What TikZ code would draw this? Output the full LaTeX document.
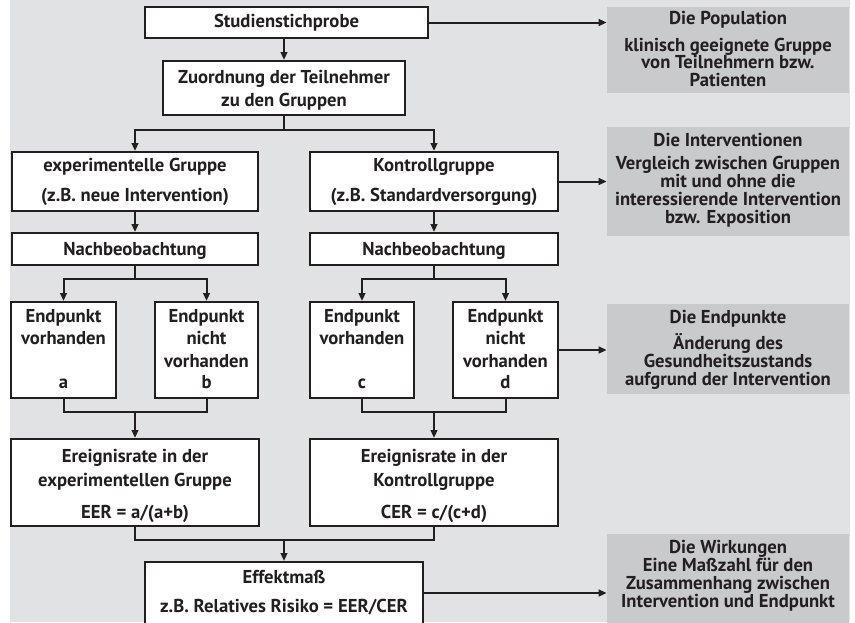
\documentclass[tikz,border=0pt]{standalone}
\usepackage{fontspec}
\setmainfont{PT Sans}
\usetikzlibrary{arrows.meta,fit}
\definecolor{bgc}{HTML}{E1E2E4}
\definecolor{gbc}{HTML}{C9CACC}
\definecolor{ink}{HTML}{231F20}
\begin{document}
\begin{tikzpicture}[x=0.75pt,y=-0.75pt,
  wbox/.style={draw=ink, fill=white, line width=1.5pt, inner sep=0pt, fit={#1}},
  gbox/.style={fill=gbc, inner sep=0pt, fit={#1}},
  t/.style={anchor=base, inner sep=0pt, text=ink, font=\fontsize{14}{16}\selectfont\bfseries},
  con/.style={draw=ink, line width=1.5pt},
  arr/.style={con, -{Triangle[length=6pt,width=5pt]}}]
\useasboundingbox (0,0) rectangle (855,622);
\fill[bgc] (10,0) rectangle (850,622);
% white boxes
\node[wbox={(145,7)(428,38)}] (stud) {};
\node[wbox={(163,61)(405,115)}] (zuord) {};
\node[wbox={(12,152)(258,211)}] (exp) {};
\node[wbox={(310,152)(558,211)}] (kon) {};
\node[wbox={(12,233)(258,265)}] (nachA) {};
\node[wbox={(310,233)(558,265)}] (nachB) {};
\node[wbox={(11,302)(116,398)}] (ea) {};
\node[wbox={(155,302)(258,398)}] (eb) {};
\node[wbox={(310,302)(414,398)}] (ec) {};
\node[wbox={(453,302)(558,398)}] (ed) {};
\node[wbox={(11,439)(259,526)}] (erA) {};
\node[wbox={(310,439)(558,526)}] (erB) {};
\node[wbox={(145,562)(423,625)}] (eff) {};
% grey boxes
\node[gbox={(607,7)(849,93)}] (pop) {};
\node[gbox={(607,127)(849,236)}] (intv) {};
\node[gbox={(607,304)(849,394)}] (endp) {};
\node[gbox={(607,534)(849,626)}] (wirk) {};
% texts in white boxes
\node[t] (studT) at (286.5,27) {Studienstichprobe};
\node[t] (zuordT1) at (284,83) {Zuordnung der Teilnehmer};
\node[t] (zuordT2) at (284,106) {zu den Gruppen};
\node[t] (expT1) at (135,171) {experimentelle Gruppe};
\node[t] (expT2) at (135,201) {(z.B. neue Intervention)};
\node[t] (konT1) at (434,171) {Kontrollgruppe};
\node[t] (konT2) at (434,201) {(z.B. Standardversorgung)};
\node[t] (nachAT) at (135,255) {Nachbeobachtung};
\node[t] (nachBT) at (434,255) {Nachbeobachtung};
\node[t] (eaT1) at (63.5,322) {Endpunkt};
\node[t] (eaT2) at (63.5,344) {vorhanden};
\node[t] (eaT3) at (63.5,388) {a};
\node[t] (ebT1) at (206.5,322) {Endpunkt};
\node[t] (ebT2) at (206.5,344) {nicht};
\node[t] (ebT3) at (206.5,367) {vorhanden};
\node[t] (ebT4) at (206.5,388) {b};
\node[t] (ecT1) at (362,322) {Endpunkt};
\node[t] (ecT2) at (362,344) {vorhanden};
\node[t] (ecT3) at (362,388) {c};
\node[t] (edT1) at (505.5,322) {Endpunkt};
\node[t] (edT2) at (505.5,344) {nicht};
\node[t] (edT3) at (505.5,367) {vorhanden};
\node[t] (edT4) at (505.5,388) {d};
\node[t] (erAT1) at (135,462) {Ereignisrate in der};
\node[t] (erAT2) at (135,486) {experimentellen Gruppe};
\node[t] (erAT3) at (135,518) {EER = a/(a+b)};
\node[t] (erBT1) at (434,462) {Ereignisrate in der};
\node[t] (erBT2) at (434,486) {Kontrollgruppe};
\node[t] (erBT3) at (434,518) {CER = c/(c+d)};
\node[t] (effT1) at (284,583) {Effektmaß};
\node[t] (effT2) at (284,612) {z.B. Relatives Risiko = EER/CER};
% texts in grey boxes
\node[t] (popT1) at (728,24) {Die Population};
\node[t] (popT2) at (728,51) {klinisch geeignete Gruppe};
\node[t] (popT3) at (728,68.5) {von Teilnehmern bzw.};
\node[t] (popT4) at (728,86) {Patienten};
\node[t] (intvT1) at (728,146) {Die Interventionen};
\node[t] (intvT2) at (728,169) {Vergleich zwischen Gruppen};
\node[t] (intvT3) at (728,187) {mit und ohne die};
\node[t] (intvT4) at (728,205) {interessierende Intervention};
\node[t] (intvT5) at (728,223) {bzw. Exposition};
\node[t] (endpT1) at (728,323) {Die Endpunkte};
\node[t] (endpT2) at (728,349) {Änderung des};
\node[t] (endpT3) at (728,367) {Gesundheitszustands};
\node[t] (endpT4) at (728,385) {aufgrund der Intervention};
\node[t] (wirkT1) at (728,553) {Die Wirkungen};
\node[t] (wirkT2) at (728,571) {Eine Maßzahl für den};
\node[t] (wirkT3) at (728,589) {Zusammenhang zwischen};
\node[t] (wirkT4) at (728,607) {Intervention und Endpunkt};
% connectors
\coordinate (s1) at (284,130);
\coordinate (s2) at (135,279);
\coordinate (s3) at (434,279);
\coordinate (j1) at (135,412);
\coordinate (j2) at (434,412);
\coordinate (j3) at (284,540);
\draw[arr] (stud.east) -- (stud.east -| pop.west);
\draw[arr] (stud.south -| zuord.north) -- (zuord.north);
\draw[con] (zuord.south) -- (s1);
\draw[arr] (s1) -| (exp.north);
\draw[arr] (s1) -| (kon.north);
\draw[arr] (kon.east) -- (kon.east -| intv.west);
\draw[arr] (exp.south) -- (nachA.north);
\draw[arr] (kon.south) -- (nachB.north);
\draw[con] (nachA.south) -- (s2);
\draw[arr] (s2) -| (ea.north);
\draw[arr] (s2) -| (eb.north);
\draw[con] (nachB.south) -- (s3);
\draw[arr] (s3) -| (ec.north);
\draw[arr] (s3) -| (ed.north);
\draw[arr] (ed.east) -- (ed.east -| endp.west);
\draw[con] (ea.south) |- (j1);
\draw[con] (eb.south) |- (j1);
\draw[arr] (j1) -- (erA.north);
\draw[con] (ec.south) |- (j2);
\draw[con] (ed.south) |- (j2);
\draw[arr] (j2) -- (erB.north);
\draw[con] (erA.south) |- (j3);
\draw[con] (erB.south) |- (j3);
\draw[arr] (j3) -- (eff.north);
\draw[arr] (eff.east |- 0,593) -- (wirk.west |- 0,593);
\end{tikzpicture}
\end{document}
